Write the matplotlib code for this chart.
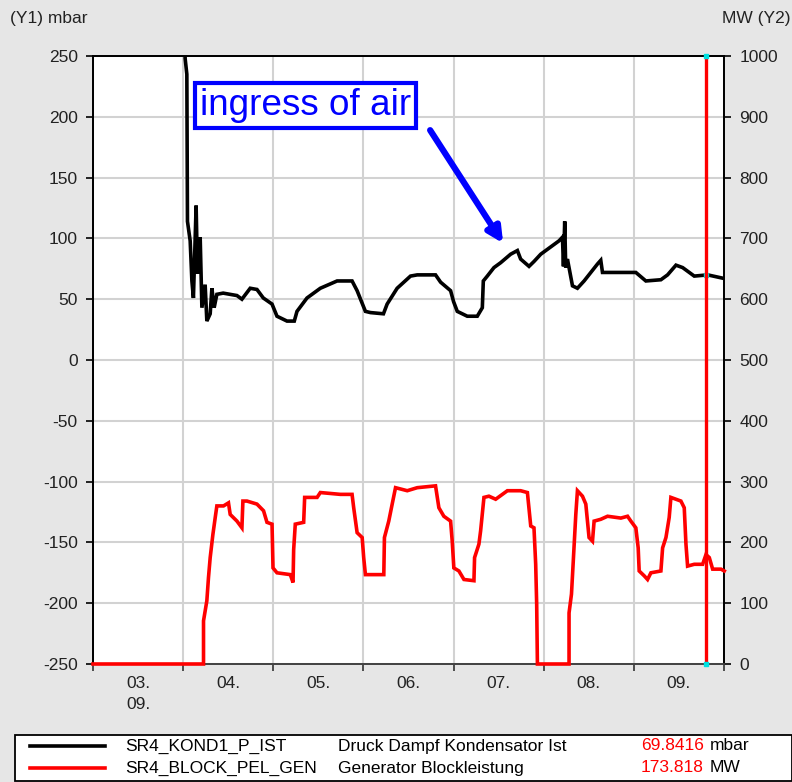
import matplotlib
matplotlib.use("Agg")
import matplotlib.pyplot as plt
from matplotlib.patches import Rectangle

plt.rcParams['font.family'] = ['Liberation Sans', 'DejaVu Sans']

# ---- data ----
day_labels = ["03.\n09.", "04.", "05.", "06.", "07.", "08.", "09."]
y1_ticks = [-250, -200, -150, -100, -50, 0, 50, 100, 150, 200, 250]
y2_ticks = [0, 100, 200, 300, 400, 500, 600, 700, 800, 900, 1000]

# condenser pressure (mbar) vs. days since 03.09 00:00
p_days = [1.02, 1.022, 1.041, 1.048, 1.078, 1.097, 1.114, 1.144, 1.159, 1.189, 1.208,
          1.244, 1.263, 1.300, 1.319, 1.344, 1.374, 1.444, 1.597, 1.652, 1.744, 1.819,
          1.889, 1.986, 2.041, 2.152, 2.233, 2.263, 2.374, 2.522, 2.708, 2.874, 2.930,
          3.022, 3.078, 3.222, 3.263, 3.374, 3.522, 3.597, 3.800, 3.856, 3.967, 4.000,
          4.041, 4.152, 4.263, 4.319, 4.330, 4.374, 4.448, 4.522, 4.633, 4.708, 4.744,
          4.837, 4.892, 4.967, 5.170, 5.208, 5.219, 5.233, 5.244, 5.263, 5.319, 5.374,
          5.448, 5.597, 5.633, 5.652, 5.930, 6.022, 6.133, 6.300, 6.374, 6.467, 6.541,
          6.670, 6.819, 7.003]
p_mbar = [320, 248, 235, 114, 98, 65, 51, 127, 71, 101, 43,
          62, 32, 38, 59, 43, 54, 55, 53, 50, 59, 58,
          51, 46, 36, 32, 32, 40, 51, 59, 65, 65, 57,
          40, 39, 38, 46, 59, 69, 70, 70, 64, 57, 48,
          40, 36, 36, 43, 65, 69, 76, 80, 87, 90, 83,
          77, 81, 87, 98, 101, 77, 114, 76, 83, 61, 59,
          65, 79, 82, 72, 72, 72, 65, 66, 70, 78, 76,
          69, 70, 67]

# generator output (MW)
g_days = [0.0, 1.226, 1.226, 1.263, 1.281, 1.300, 1.330, 1.356, 1.374, 1.448, 1.503,
          1.522, 1.597, 1.652, 1.663, 1.708, 1.819, 1.892, 1.930, 1.986, 1.997, 2.041,
          2.189, 2.219, 2.226, 2.244, 2.337, 2.348, 2.486, 2.522, 2.744, 2.874, 2.892,
          2.930, 2.986, 3.003, 3.022, 3.226, 3.233, 3.281, 3.319, 3.356, 3.486, 3.597,
          3.800, 3.837, 3.892, 3.967, 3.985, 4.003, 4.059, 4.115, 4.226, 4.233, 4.281,
          4.300, 4.337, 4.392, 4.467, 4.597, 4.744, 4.819, 4.856, 4.892, 4.911, 4.922,
          4.930, 5.281, 5.281, 5.308, 5.330, 5.356, 5.374, 5.430, 5.467, 5.503, 5.541,
          5.559, 5.633, 5.708, 5.856, 5.930, 5.967, 6.022, 6.048, 6.059, 6.115, 6.152,
          6.189, 6.300, 6.319, 6.356, 6.392, 6.411, 6.522, 6.559, 6.578, 6.596, 6.670,
          6.763, 6.800, 6.837, 6.874, 6.967, 7.003]
g_mw = [0, 0, 71, 104, 142, 175, 213, 241, 260, 260, 265,
        246, 235, 224, 268, 268, 263, 252, 233, 230, 158, 150,
        147, 134, 188, 230, 233, 274, 274, 282, 279, 279, 257,
        216, 208, 175, 147, 147, 208, 235, 263, 290, 285, 290,
        293, 257, 243, 235, 202, 158, 153, 139, 137, 175, 197,
        219, 274, 276, 271, 285, 285, 282, 227, 224, 164, 98,
        0, 0, 84, 115, 175, 246, 285, 276, 263, 208, 202,
        235, 238, 243, 240, 243, 235, 224, 191, 153, 145, 139,
        150, 153, 191, 208, 241, 274, 268, 257, 197, 161, 164,
        164, 180, 175, 156, 156, 153]

cursor_day = 6.80
legend_tags = ["SR4_KOND1_P_IST", "SR4_BLOCK_PEL_GEN"]
legend_desc = ["Druck Dampf Kondensator Ist", "Generator Blockleistung"]
legend_vals = ["69.8416", "173.818"]
legend_units = ["mbar", "MW"]
legend_colors = ["black", "#ff0000"]

# ---- figure ----
W, H = 792, 782
FS = 12.5
TXT = "#222222"
fig = plt.figure(figsize=(W / 100, H / 100), dpi=100, facecolor="#e6e6e6")
ax = fig.add_axes([93 / W, 1 - 664 / H, (724 - 93) / W, (664 - 56) / H])
ax.set_facecolor("white")
ax2 = ax.twinx()

ax.set_xlim(0, 7)
ax.set_ylim(-250, 250)
ax2.set_ylim(0, 1000)

ax.set_xticks(range(0, 8))
ax.set_xticklabels([])
ax.set_xticks([i + 0.5 for i in range(7)], minor=True)
ax.set_xticklabels(day_labels, minor=True, fontsize=FS, color=TXT)
ax.tick_params(axis="x", which="major", direction="out", length=5, width=1.2, color="#333333")
ax.tick_params(axis="x", which="minor", length=0, pad=9)
for lbl in ax.get_xticklabels(minor=True):
    lbl.set_verticalalignment("top")
    lbl.set_linespacing(1.45)
ax.set_yticks(y1_ticks)
ax.set_yticklabels([str(t) for t in y1_ticks], fontsize=FS, color=TXT)
ax.tick_params(axis="y", direction="out", length=5, width=1.2, pad=6)
ax2.set_yticks(y2_ticks)
ax2.set_yticklabels([str(t) for t in y2_ticks], fontsize=FS, color=TXT)
ax2.tick_params(axis="y", direction="out", length=5, width=1.2, pad=6)

ax.grid(True, which="major", color="#d2d2d2", linewidth=1.5)
ax.set_axisbelow(True)

for a in (ax, ax2):
    for s in a.spines.values():
        s.set_linewidth(1.3)
    a.spines["bottom"].set_color("#444444")

# data
ax.plot(p_days, p_mbar, color="black", linewidth=2.6, solid_joinstyle="miter", zorder=3)
ax2.plot(g_days, g_mw, color="#ff0000", linewidth=2.6, solid_joinstyle="miter", zorder=3, clip_on=False)
ax2.axvline(cursor_day, color="#ff0000", linewidth=2.4, zorder=4)
ax2.plot([cursor_day], [1000], marker="s", ms=2.5, color="#00e0e0", zorder=5, clip_on=False)
ax2.plot([cursor_day], [0], marker="s", ms=2.5, color="#00e0e0", zorder=5, clip_on=False)
ax.plot([cursor_day], [69.84], marker="s", ms=2.5, color="#00e0e0", zorder=5)

# annotation
ax.annotate("", xy=(4.55, 96), xytext=(3.74, 189),
            arrowprops=dict(arrowstyle="-|>,head_length=0.9,head_width=0.45",
                            color="#0000ff", lw=4.5, shrinkA=0, shrinkB=0), zorder=6)
fig.text(200 / W, 1 - 105.5 / H, "ingress of air", fontsize=26.6, color="#0000ff",
         ha="left", va="center",
         bbox=dict(boxstyle="square,pad=0.14", facecolor="white", edgecolor="#0000ff", linewidth=3))

# axis captions
fig.text(10 / W, 1 - 18 / H, "(Y1) mbar", fontsize=FS, color=TXT, ha="left", va="center")
fig.text(790 / W, 1 - 18 / H, "MW (Y2)", fontsize=FS, color=TXT, ha="right", va="center")

# legend box
fig.patches.append(Rectangle((15 / W, 1 / H), (W - 15) / W, (781 - 735) / H, transform=fig.transFigure,
                             facecolor="white", edgecolor="black", linewidth=1.3, zorder=1))
row_y = [746, 768]
for i in range(2):
    y = 1 - row_y[i] / H
    fig.add_artist(plt.Line2D([30 / W, 105 / W], [y, y], transform=fig.transFigure,
                              color=legend_colors[i], linewidth=2.6))
    fig.text(125 / W, y, legend_tags[i], fontsize=FS, color="black", ha="left", va="center")
    fig.text(338 / W, y, legend_desc[i], fontsize=FS, color="black", ha="left", va="center")
    fig.text(704 / W, y, legend_vals[i], fontsize=FS, color="#ff0000", ha="right", va="center")
    fig.text(710 / W, y, legend_units[i], fontsize=FS, color="black", ha="left", va="center")

fig.savefig("out.png", dpi=100, facecolor=fig.get_facecolor())
